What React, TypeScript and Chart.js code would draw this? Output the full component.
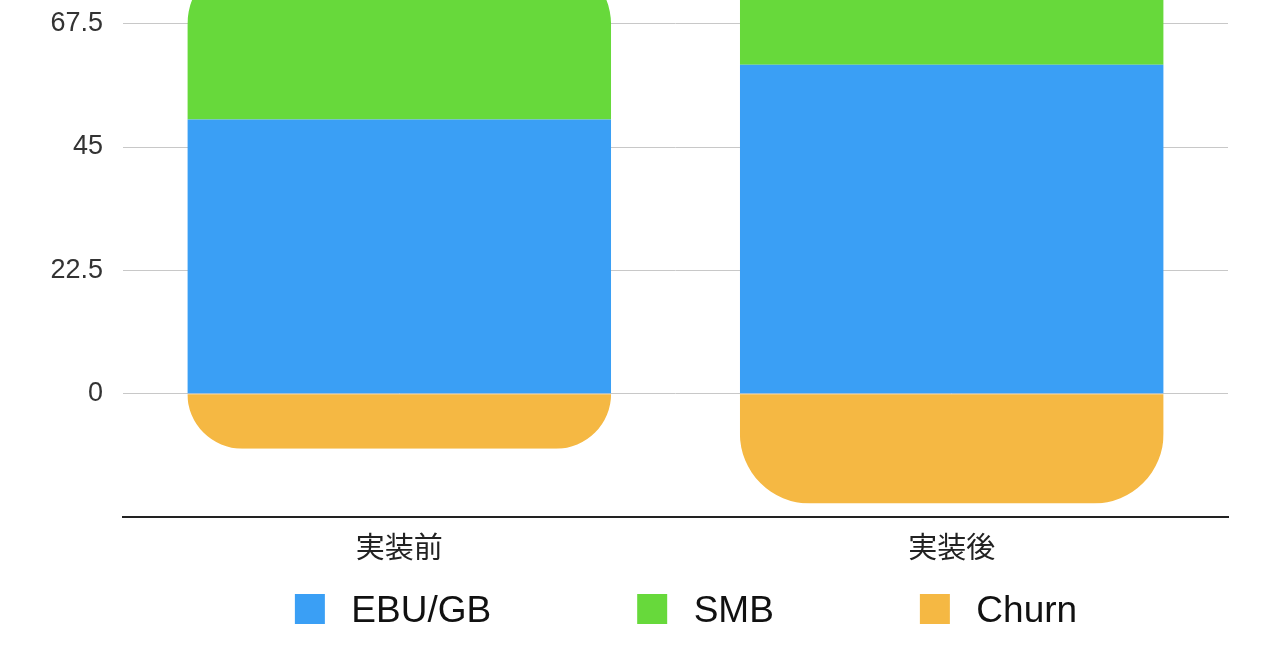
import { useEffect, useRef } from "react";
import { Chart, registerables } from "chart.js";

Chart.register(...registerables);

// data
const categories = ["実装前", "実装後"];
const ebuGb = [50, 60];
const smb = [30, 30];
const churn = [-10, -20];

const seriesLabels = ["EBU/GB", "SMB", "Churn"];
const seriesColors = ["#3A9FF5", "#67D93B", "#F5B843"];

const yMin = -22.5;
const yMax = 90;
const yStep = 22.5;

const CORNER = 70;
const SWATCH_W = 167;
const SWATCH_OFFSET = 129;

// legend swatch with blank lead-in so items sit where the reference has them
function makeSwatch(color: string) {
  const c = document.createElement("canvas");
  c.width = SWATCH_W;
  c.height = 35;
  const g = c.getContext("2d");
  if (g) {
    g.fillStyle = color;
    g.fillRect(SWATCH_OFFSET, 0, 30, 30);
  }
  return c;
}

// clip each stack to one rounded outline (top of positive part, bottom of negative part)
const roundStack = {
  id: "roundStack",
  beforeDatasetsDraw(chart: any) {
    const ctx = chart.ctx;
    const y0 = chart.scales.y.getPixelForValue(0);
    const metas = chart.getSortedVisibleDatasetMetas();
    ctx.save();
    ctx.beginPath();
    categories.forEach((_, i) => {
      let top = y0;
      let bottom = y0;
      let left = 0;
      let width = 0;
      metas.forEach((meta: any) => {
        const bar = meta.data[i];
        if (!bar) return;
        const p = bar.getProps(["x", "y", "base", "width"], true);
        left = p.x - p.width / 2;
        width = p.width;
        top = Math.min(top, p.y, p.base);
        bottom = Math.max(bottom, p.y, p.base);
      });
      const rTop = Math.min(CORNER, y0 - top, width / 2);
      const rBot = Math.min(CORNER, bottom - y0, width / 2);
      ctx.roundRect(left, top, width, y0 - top + 2, [rTop, rTop, 0, 0]);
      ctx.roundRect(left, y0 - 2, width, bottom - y0 + 2, [0, 0, rBot, rBot]);
    });
    ctx.clip();
  },
  afterDatasetsDraw(chart: any) {
    chart.ctx.restore();
  },
};

function StackedChart() {
  const canvasRef = useRef<HTMLCanvasElement>(null);
  const chartRef = useRef<Chart | null>(null);

  useEffect(() => {
    if (!canvasRef.current) return;
    if (chartRef.current) chartRef.current.destroy();

    const values = [ebuGb, smb, churn];

    chartRef.current = new Chart(canvasRef.current, {
      type: "bar",
      data: {
        labels: categories,
        datasets: values.map((data, i) => ({
          label: seriesLabels[i],
          data,
          backgroundColor: seriesColors[i],
          borderWidth: 0,
          borderRadius: 0,
          barPercentage: 0.767,
          categoryPercentage: 1,
          pointStyle: makeSwatch(seriesColors[i]),
        })) as any,
      },
      plugins: [roundStack],
      options: {
        animation: false,
        responsive: true,
        maintainAspectRatio: false,
        layout: {
          padding: { top: 0, left: 15, right: 52, bottom: 0 },
        },
        plugins: {
          tooltip: { enabled: false },
          legend: {
            position: "bottom",
            labels: {
              usePointStyle: true,
              pointStyleWidth: SWATCH_W,
              boxHeight: 30,
              padding: 17,
              color: "#111111",
              font: { family: "'Liberation Sans', Arial, sans-serif", size: 37 },
            },
          },
        },
        scales: {
          x: {
            stacked: true,
            grid: { display: false, drawTicks: false },
            border: { display: true, color: "#222222", width: 2 },
            ticks: {
              padding: 12,
              color: "#222222",
              font: { family: "'Noto Sans CJK JP', sans-serif", size: 29 },
            },
          },
          y: {
            stacked: true,
            min: yMin,
            max: yMax,
            afterFit: (scale: any) => {
              scale.width = 108;
            },
            border: { display: false },
            grid: {
              drawTicks: false,
              lineWidth: 1,
              color: (c: any) =>
                c.tick && c.tick.value < 0 ? "rgba(0,0,0,0)" : "#c8c8c8",
            },
            ticks: {
              stepSize: yStep,
              padding: 20,
              color: "#333333",
              font: { family: "'Liberation Sans', Arial, sans-serif", size: 27 },
              callback: (v: any) => (Number(v) < 0 ? "" : String(v)),
            },
          },
        },
      },
    });

    return () => {
      if (chartRef.current) {
        chartRef.current.destroy();
        chartRef.current = null;
      }
    };
  }, []);

  return (
    <div
      style={{
        position: "fixed",
        top: 0,
        left: 0,
        width: 1280,
        height: 670,
        overflow: "hidden",
        background: "#ffffff",
      }}
    >
      <div style={{ position: "absolute", top: -136, left: 0, width: 1280, height: 776 }}>
        <canvas ref={canvasRef} />
      </div>
    </div>
  );
}

export default function App() {
  return <StackedChart />;
}
